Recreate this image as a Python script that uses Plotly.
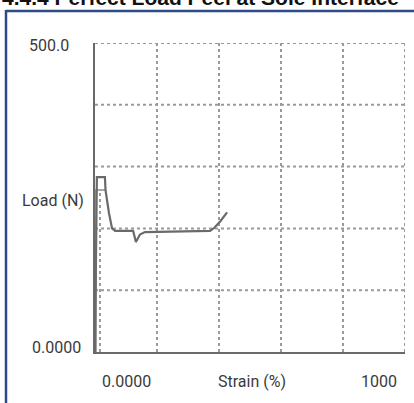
import plotly.graph_objects as go

# Data
strain_main = [0, 3, 6, 6, 32, 34, 45, 55, 65, 123, 132, 145, 161, 250, 371, 385, 405, 426]
load_main = [0, 150, 262, 283, 283, 262, 225, 200, 196, 196, 178, 190, 194, 195, 196, 201, 212, 226]
strain_second = [3, 3, 33]
load_second = [0, 262, 262]

x_range = [0, 1000]
y_range = [0, 500]
x_grid = [200, 400, 600, 800, 1000]
y_grid = [100, 200, 300, 400, 500]

W, H = 414, 403
fig = go.Figure()
fig.add_trace(go.Scatter(x=strain_second, y=load_second, mode="lines",
                         line=dict(color="#8a8a8a", width=1.5), hoverinfo="skip"))
fig.add_trace(go.Scatter(x=strain_main, y=load_main, mode="lines",
                         line=dict(color="#6a6a6a", width=2.2), hoverinfo="skip"))

grid_col = "#9a9a9a"
gdash = "3px,3px"
shapes = []
for gx in x_grid:
    shapes.append(dict(type="line", xref="x", yref="y", x0=gx, x1=gx, y0=0, y1=500,
                       line=dict(color=grid_col, width=2, dash=gdash), layer="below"))
for gy in y_grid:
    shapes.append(dict(type="line", xref="x", yref="y", x0=0, x1=1000, y0=gy, y1=gy,
                       line=dict(color=grid_col, width=2, dash=gdash), layer="below"))
# extra near-axis dotted line
shapes.append(dict(type="line", xref="x", yref="y", x0=16, x1=16, y0=0, y1=262,
                   line=dict(color=grid_col, width=2, dash=gdash), layer="below"))
# frame borders (blue)
shapes.append(dict(type="line", xref="paper", yref="paper", x0=6/W, x1=6/W, y0=0, y1=1-10/H,
                   line=dict(color="#2c4a86", width=2.5)))
shapes.append(dict(type="line", xref="paper", yref="paper", x0=6/W, x1=1, y0=1-11/H, y1=1-11/H,
                   line=dict(color="#2c4a86", width=2.5)))

font = dict(family="Roboto, 'Open Sans', sans-serif", size=16, color="#3a3a3a")
ann = [
    dict(text="500.0", x=71/W, y=1-46/H, xanchor="right", yanchor="middle"),
    dict(text="Load (N)", x=86/W, y=1-201/H, xanchor="right", yanchor="middle"),
    dict(text="0.0000", x=83/W, y=1-347/H, xanchor="right", yanchor="middle"),
    dict(text="0.0000", x=100/W, y=1-381/H, xanchor="left", yanchor="middle"),
    dict(text="Strain (%)", x=252/W, y=1-381/H, xanchor="center", yanchor="middle"),
    dict(text="1000", x=399/W, y=1-381/H, xanchor="right", yanchor="middle"),
]
annotations = [dict(a, xref="paper", yref="paper", showarrow=False, font=font) for a in ann]
annotations.append(dict(text="<b>4.4.4 Perfect Load Peel at Sole Interface</b>", xref="paper", yref="paper",
                        x=0, y=1+3/H, xanchor="left", yanchor="middle", showarrow=False,
                        font=dict(family="Liberation Sans, Arial, sans-serif", size=21, color="#111111")))

fig.update_layout(
    width=W, height=H, margin=dict(l=0, r=0, t=0, b=0),
    paper_bgcolor="white", plot_bgcolor="white", showlegend=False,
    xaxis=dict(domain=[95/W, 405/W], range=x_range, showgrid=False, zeroline=False,
               showticklabels=False, ticks="", showline=True, linecolor="#6a6a6a", linewidth=2),
    yaxis=dict(domain=[1-352/H, 1-43/H], range=y_range, showgrid=False, zeroline=False,
               showticklabels=False, ticks="", showline=True, linecolor="#6a6a6a", linewidth=2),
    shapes=shapes, annotations=annotations,
)
fig.write_html("out.html")
